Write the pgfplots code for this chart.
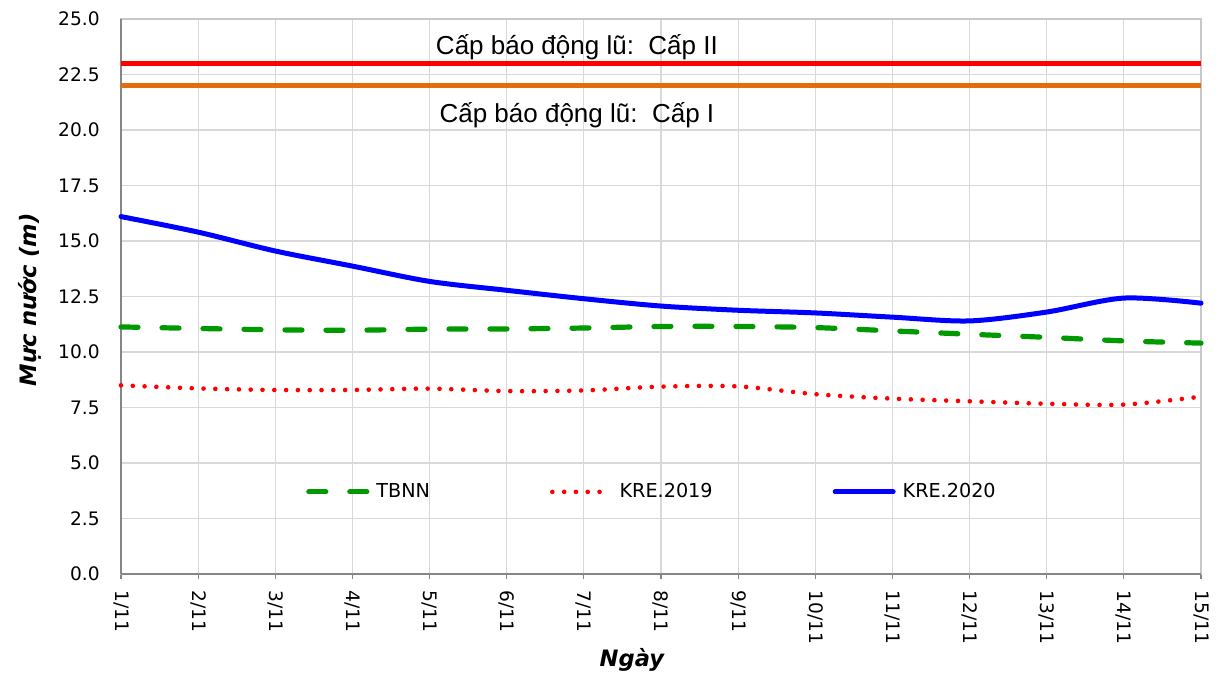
\documentclass[border=0pt]{standalone}
\usepackage{pgfplots}
\pgfplotsset{compat=1.18}
\usepackage{pgfplotstable}
\usepackage{fontspec}
\setmainfont{DejaVu Sans}
\newfontfamily\arialfont{Liberation Sans}
\definecolor{tbnn}{RGB}{0,153,0}
\definecolor{kre19}{RGB}{255,0,0}
\definecolor{kre20}{RGB}{0,0,255}
\definecolor{cap2}{RGB}{255,0,0}
\definecolor{cap1}{RGB}{228,108,10}
\definecolor{gridc}{RGB}{217,217,217}
\definecolor{boxc}{RGB}{200,200,200}
\definecolor{axc}{RGB}{134,134,134}

\pgfplotstableread{
x tbnn k19 k20
0 11.13 8.50 16.10
1 11.06 8.36 15.40
2 11.00 8.29 14.55
3 10.98 8.29 13.87
4 11.03 8.35 13.18
5 11.04 8.24 12.78
6 11.08 8.27 12.40
7 11.15 8.44 12.07
8 11.15 8.45 11.88
9 11.10 8.10 11.76
10 10.95 7.90 11.57
11 10.80 7.78 11.40
12 10.66 7.67 11.80
13 10.50 7.63 12.43
14 10.40 7.99 12.20
}\data

\pgfplotstableread{
x v
0 23
14 23
}\captwo
\pgfplotstableread{
x v
0 22
14 22
}\capone

\begin{document}
\begin{tikzpicture}
\begin{axis}[
  at={(0pt,0pt)}, anchor=south west,
  scale only axis, width=540pt, height=277.5pt,
  xmin=0, xmax=14, ymin=0, ymax=25,
  clip=false,
  xtick={0,...,14},
  xticklabels={1/11,2/11,3/11,4/11,5/11,6/11,7/11,8/11,9/11,10/11,11/11,12/11,13/11,14/11,15/11},
  ytick={0,2.5,...,25},
  /pgf/number format/assume math mode=true,
  yticklabel style={/pgf/number format/fixed, /pgf/number format/fixed zerofill, /pgf/number format/precision=1,
     font=\fontsize{9.3}{11}\selectfont, inner sep=0pt, anchor=east, xshift=-8pt},
  xticklabel style={font=\fontsize{9.3}{11}\selectfont, rotate=-90, anchor=west, inner sep=0pt},
  xticklabel shift=5.5pt,
  tick pos=left,
  tick align=outside,
  major tick length=2.5pt,
  xtick style={axc, line width=0.6pt},
  ytick style={draw=none},
  grid=major,
  major grid style={gridc, line width=0.6pt},
  axis line style={boxc, line width=0.6pt},
  xlabel={Ngày},
  ylabel={Mực nước (m)},
  xlabel style={font=\bfseries\itshape\fontsize{11.3}{13}\selectfont, at={(axis description cs:0.473,-0.155)}, anchor=center},
  ylabel style={font=\bfseries\itshape\fontsize{11.3}{13}\selectfont, at={(axis description cs:-0.084,0.494)}, anchor=center},
  legend columns=3,
  legend image code/.code={\draw[#1] (0pt,0pt) -- (29pt,0pt);},
  legend style={at={(axis description cs:0.1715,0.148)}, anchor=west, draw=none, fill=none,
     font=\fontsize{9.6}{12}\selectfont, inner sep=0pt, outer sep=0pt, nodes={inner sep=0pt},
     column sep=0pt,
     /tikz/every odd column/.append style={column sep=3.5pt},
     /tikz/every even column/.append style={column sep=60pt}},
]
\draw[axc, line width=0.7pt] (rel axis cs:0,0) -- (rel axis cs:0,1);
\draw[axc, line width=0.7pt] (rel axis cs:0,0) -- (rel axis cs:1,0);

\addplot[cap2, line width=2.8pt, forget plot] table[x=x, y=v] {\captwo};
\addplot[cap1, line width=2.8pt, forget plot] table[x=x, y=v] {\capone};

\addplot[tbnn, line width=2.6pt, line cap=round, dash pattern=on 8.5pt off 12pt, smooth] table[x=x, y=tbnn] {\data};
\addlegendentry{TBNN}
\addplot[kre19, line width=2.3pt, line cap=round, dash pattern=on 0pt off 5.9pt, smooth] table[x=x, y=k19] {\data};
\addlegendentry{KRE.2019}
\addplot[kre20, line width=2.5pt, line cap=round, smooth] table[x=x, y=k20] {\data};
\addlegendentry{KRE.2020}

\node[font=\arialfont\fontsize{13}{15}\selectfont, anchor=center] at (axis cs:5.91,23.74) {Cấp báo động lũ:\ \ Cấp II};
\node[font=\arialfont\fontsize{13}{15}\selectfont, anchor=center] at (axis cs:5.91,20.68) {Cấp báo động lũ:\ \ Cấp I};
\end{axis}
\pgfresetboundingbox
\path[use as bounding box] (-60.5pt,-50pt) rectangle (548.5pt,287pt);
\end{tikzpicture}
\end{document}
